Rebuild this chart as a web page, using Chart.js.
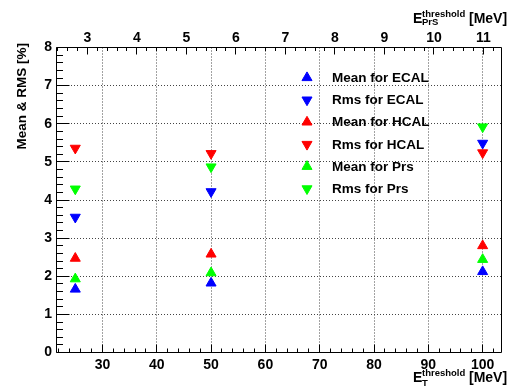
<!DOCTYPE html>
<html>
<head>
<meta charset="utf-8">
<script src="https://cdn.jsdelivr.net/npm/chart.js@4.4.1/dist/chart.umd.min.js"></script>
<style>
  html, body { margin: 0; padding: 0; background: #fff; }
  #wrap { width: 509px; height: 387px; position: relative; }
</style>
</head>
<body>
<div id="wrap"><canvas id="rms-chart"></canvas></div>
<script>
// E_T threshold points (MeV)
const eT = [25, 50, 100];

// mean and rms of the resolution, in %
const meanEcal = [1.66, 1.82, 2.12];
const rmsEcal  = [3.55, 4.22, 5.49];
const meanHcal = [2.47, 2.58, 2.80];
const rmsHcal  = [5.36, 5.22, 5.24];
const meanPrs  = [1.93, 2.09, 2.44];
const rmsPrs   = [4.29, 4.87, 5.92];

const seriesLabels = ['Mean for ECAL', 'Rms for ECAL', 'Mean for HCAL', 'Rms for HCAL', 'Mean for Prs', 'Rms for Prs'];
const seriesValues = [meanEcal, rmsEcal, meanHcal, rmsHcal, meanPrs, rmsPrs];
const seriesColors = ['#0000ff', '#0000ff', '#ff0000', '#ff0000', '#00ff00', '#00ff00'];

const FONT = '"Liberation Sans", Arial, Helvetica, sans-serif';

const datasets = seriesLabels.map((label, i) => ({
    label: label,
    data: eT.map((x, j) => ({ x: x, y: seriesValues[i][j] })),
    pointStyle: 'triangle',
    rotation: i % 2 === 0 ? 0 : 180,
    pointRadius: 5.8,
    pointHoverRadius: 5.8,
    borderWidth: 1,
    backgroundColor: seriesColors[i],
    borderColor: seriesColors[i],
    showLine: false,
    xAxisID: 'x',
    yAxisID: 'y'
}));

// ROOT style frame: inward ticks, titles and legend inside the pad
const rootFrame = {
    id: 'rootFrame',
    afterDraw(chart) {
        const ctx = chart.ctx;
        const a = chart.chartArea;
        const sx = chart.scales.x, sx2 = chart.scales.x2, sy = chart.scales.y;
        const L = Math.floor(a.left) + 0.5, R = Math.floor(a.right) - 0.5;
        const T = Math.floor(a.top) + 0.5, B = Math.floor(a.bottom) + 0.5;

        ctx.save();
        ctx.strokeStyle = '#000';
        ctx.lineWidth = 1;
        ctx.beginPath();
        ctx.rect(L, T, R - L, B - T);

        // bottom axis: major every 10, minor every 2
        for (let i = 11; i <= 51; i++) {
            const v = i * 2;
            const px = Math.floor(sx.getPixelForValue(v)) + 0.5;
            if (px < L || px > R) continue;
            const len = v % 10 === 0 ? 8 : 4;
            ctx.moveTo(px, B);
            ctx.lineTo(px, B - len);
        }
        // top axis: major every 1, minor every 0.2
        for (let i = 12; i <= 56; i++) {
            const px = Math.floor(sx2.getPixelForValue(i / 5)) + 0.5;
            if (px < L || px > R) continue;
            const len = i % 5 === 0 ? 7 : 3.5;
            ctx.moveTo(px, T);
            ctx.lineTo(px, T + len);
        }
        // left axis: major every 1, minor every 0.2
        for (let i = 0; i <= 40; i++) {
            const py = Math.floor(sy.getPixelForValue(i / 5)) + 0.5;
            const len = i % 5 === 0 ? 13 : 6.5;
            ctx.moveTo(L, py);
            ctx.lineTo(L + len, py);
        }
        ctx.stroke();

        ctx.fillStyle = '#000';
        ctx.textBaseline = 'alphabetic';
        ctx.textAlign = 'left';

        // bottom axis title
        ctx.font = 'bold 14px ' + FONT;
        ctx.fillText('E', 413, 382);
        ctx.fillText('[MeV]', 469, 382);
        ctx.font = 'bold 9.5px ' + FONT;
        ctx.fillText('threshold', 422, 376);
        ctx.fillText('T', 422, 385.5);

        // top axis title
        ctx.font = 'bold 14px ' + FONT;
        ctx.fillText('E', 413, 22.5);
        ctx.fillText('[MeV]', 469, 22.5);
        ctx.font = 'bold 9.5px ' + FONT;
        ctx.fillText('threshold', 422, 16.7);
        ctx.fillText('PrS', 422, 24.5);

        // y axis title
        ctx.save();
        ctx.translate(26, 43);
        ctx.rotate(-Math.PI / 2);
        ctx.textAlign = 'right';
        ctx.font = 'bold 13.5px ' + FONT;
        ctx.fillText('Mean & RMS [%]', 0, 0);
        ctx.restore();

        // legend
        ctx.font = 'bold 13.5px ' + FONT;
        ctx.textBaseline = 'middle';
        chart.data.datasets.forEach((ds, i) => {
            const y = 77.7 + i * 22.2;
            ctx.fillStyle = ds.backgroundColor;
            ctx.strokeStyle = ds.borderColor;
            ctx.lineWidth = 1;
            Chart.helpers.drawPoint(ctx, {
                pointStyle: 'triangle',
                radius: 5.8,
                rotation: ds.rotation,
                borderWidth: 1
            }, 307, y);
            ctx.fillStyle = '#000';
            ctx.fillText(ds.label, 332, y + 0.5);
        });
        ctx.restore();
    }
};

const tickFont = { family: FONT, size: 14, weight: 'bold' };

new Chart(document.getElementById('rms-chart').getContext('2d'), {
    type: 'scatter',
    data: { datasets: datasets },
    plugins: [rootFrame],
    options: {
        responsive: true,
        maintainAspectRatio: false,
        animation: false,
        layout: { padding: { left: 0, right: 0.5, top: 0, bottom: 0 } },
        plugins: {
            legend: { display: false },
            tooltip: { enabled: false }
        },
        scales: {
            x: {
                type: 'linear',
                position: 'bottom',
                min: 21.45,
                max: 103.6,
                afterFit: s => { s.height = 34.5; },
                ticks: {
                    stepSize: 10,
                    includeBounds: false,
                    autoSkip: false,
                    maxRotation: 0,
                    padding: 4,
                    color: '#000',
                    font: tickFont
                },
                grid: {
                    drawTicks: false,
                    tickLength: 0,
                    color: '#444',
                    lineWidth: 1
                },
                border: { display: false, dash: [1, 2] }
            },
            x2: {
                type: 'linear',
                position: 'top',
                min: 2.368,
                max: 11.379,
                afterFit: s => { s.height = 47.5; },
                ticks: {
                    stepSize: 1,
                    includeBounds: false,
                    autoSkip: false,
                    maxRotation: 0,
                    padding: 1,
                    color: '#000',
                    font: tickFont
                },
                grid: { display: false, drawTicks: false, tickLength: 0 },
                border: { display: false }
            },
            y: {
                type: 'linear',
                min: 0,
                max: 8,
                afterFit: s => { s.width = 56; },
                ticks: {
                    stepSize: 1,
                    autoSkip: false,
                    padding: 4,
                    color: '#000',
                    font: tickFont
                },
                grid: {
                    drawTicks: false,
                    tickLength: 0,
                    color: c => (c.tick && (c.tick.value === 0 || c.tick.value === 8)) ? 'rgba(0,0,0,0)' : '#444',
                    lineWidth: 1
                },
                border: { display: false, dash: [1, 2] }
            }
        }
    }
});
</script>
</body>
</html>
